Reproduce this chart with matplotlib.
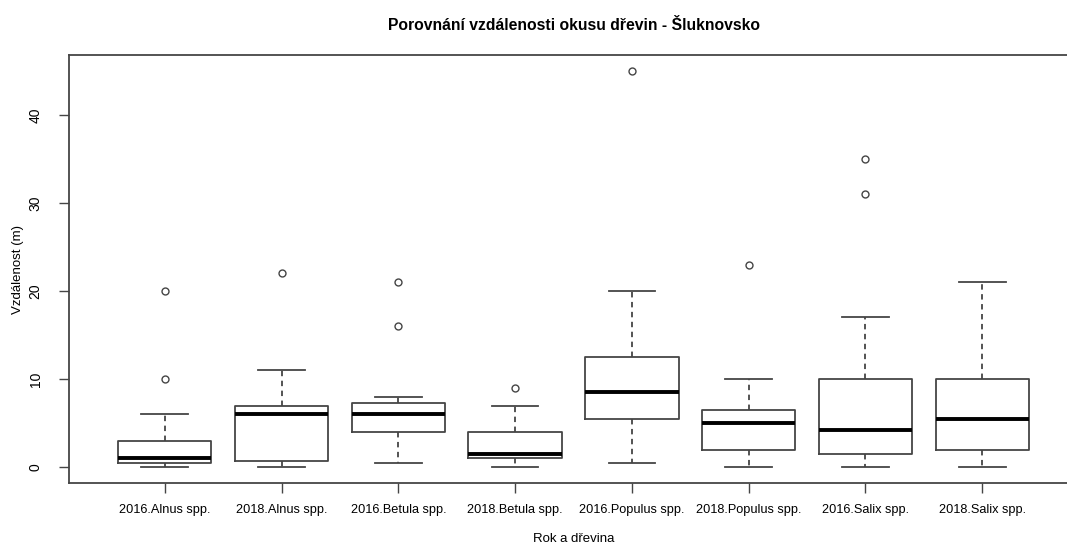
import matplotlib
matplotlib.use("Agg")
import matplotlib.pyplot as plt

plt.rcParams['font.family'] = ['Liberation Sans', 'DejaVu Sans']

# groups (year.species) and their five-number summaries + outliers
labels = ["2016.Alnus spp.", "2018.Alnus spp.", "2016.Betula spp.", "2018.Betula spp.",
          "2016.Populus spp.", "2018.Populus spp.", "2016.Salix spp.", "2018.Salix spp."]
whislo = [0, 0, 0.5, 0, 0.5, 0, 0, 0]
q1 = [0.5, 0.75, 4, 1, 5.5, 2, 1.5, 2]
med = [1, 6, 6, 1.5, 8.5, 5, 4.25, 5.5]
q3 = [3, 7, 7.25, 4, 12.5, 6.5, 10, 10]
whishi = [6, 11, 8, 7, 20, 10, 17, 21]
fliers = [[10, 20], [22], [16, 21], [9], [45], [23], [31, 35], []]

stats = []
for i in range(len(labels)):
    stats.append(dict(label=labels[i], whislo=whislo[i], q1=q1[i], med=med[i],
                      q3=q3[i], whishi=whishi[i], fliers=fliers[i]))

fig = plt.figure(figsize=(10.67, 5.43), dpi=100)
ax = fig.add_axes([69/1067, 1-483/543, (1078-69)/1067, (483-55)/543])

edge = '#454545'
ax.bxp(stats, widths=0.8, showfliers=True,
       boxprops=dict(color=edge, linewidth=1.3),
       whiskerprops=dict(color=edge, linewidth=1.3, linestyle=(0, (3, 2.5))),
       capprops=dict(color=edge, linewidth=1.3),
       medianprops=dict(color='black', linewidth=2.8),
       flierprops=dict(marker='o', markersize=5, markerfacecolor='none',
                       markeredgecolor=edge, markeredgewidth=1.0),
       capwidths=0.4)

ax.set_xlim(0.18, 8.82)
ax.set_ylim(-1.8, 46.8)
ax.set_yticks([0, 10, 20, 30, 40])
ax.set_yticklabels(['0', '10', '20', '30', '40'], rotation=90, va='center')
ax.set_xticks(range(1, 9))
ax.set_xticklabels(labels)
ax.tick_params(axis='both', direction='out', length=7, width=1.0, color=edge,
               labelsize=10, pad=12)
ax.tick_params(axis='x', pad=8, labelsize=9.2)

for s in ax.spines.values():
    s.set_color(edge)
    s.set_linewidth(1.3)

ax.set_title("Porovnání vzdálenosti okusu dřevin - Šluknovsko", fontsize=11.3,
             fontweight='bold', pad=18)
ax.set_ylabel("Vzdálenost (m)", fontsize=9.5, labelpad=3)
ax.set_xlabel("Rok a dřevina", fontsize=9.5, labelpad=12)

fig.savefig("out.png", dpi=100)
